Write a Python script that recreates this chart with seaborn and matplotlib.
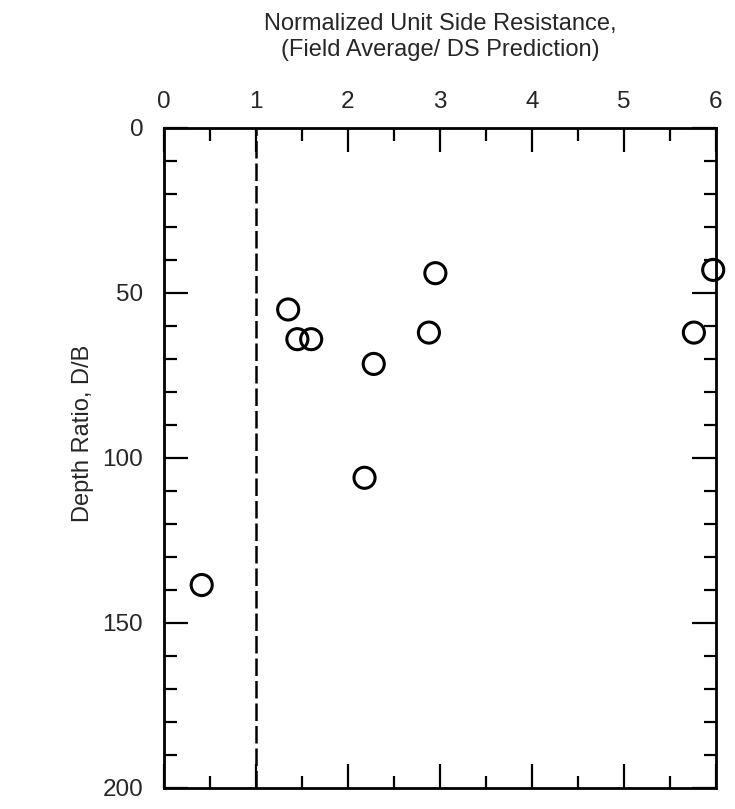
import numpy as np
import seaborn as sns
import matplotlib.pyplot as plt
import pandas as pd
from matplotlib.ticker import MultipleLocator

# values
ratio = [1.35, 1.45, 1.6, 2.28, 2.18, 2.95, 2.88, 5.97, 5.76, 0.41]
depth = [55, 64, 64, 71.5, 106, 44, 62, 43, 62, 138.5]

df = pd.DataFrame({"ratio": ratio, "depth": depth})

sns.set_style("ticks")
plt.rcParams['font.family'] = ['Liberation Sans', 'DejaVu Sans']

fig = plt.figure(figsize=(7.35, 8.09), dpi=100)
ax = fig.add_axes([0.2231, 0.026, 0.751, 0.8158])

sns.scatterplot(x="ratio", y="depth", data=df, ax=ax, s=230, marker="o",
                facecolor="none", edgecolor="black", linewidth=2.2, clip_on=False, zorder=3)

ax.axvline(1, color="black", linestyle=(0, (7, 2)), linewidth=1.8)

ax.set_xlim(0, 6)
ax.set_ylim(200, 0)
ax.xaxis.set_major_locator(MultipleLocator(1))
ax.xaxis.set_minor_locator(MultipleLocator(0.5))
ax.yaxis.set_major_locator(MultipleLocator(50))
ax.yaxis.set_minor_locator(MultipleLocator(10))

ax.tick_params(axis="both", which="both", direction="in", top=True, bottom=True,
               left=True, right=True, labeltop=True, labelbottom=False,
               labelsize=17.5, color="black", width=1.6)
ax.tick_params(which="major", length=17)
ax.tick_params(which="minor", length=9)
ax.tick_params(axis="x", which="major", pad=11)
ax.tick_params(axis="y", which="major", pad=15)

ax.xaxis.set_label_position("top")
ax.set_xlabel("Normalized Unit Side Resistance,\n(Field Average/ DS Prediction)",
              fontsize=17, labelpad=25, linespacing=1.25)
ax.set_ylabel("Depth Ratio, D/B", fontsize=17)
ax.yaxis.set_label_coords(-0.127, 0.538)

for sp in ax.spines.values():
    sp.set_linewidth(2)
    sp.set_color("black")

fig.savefig("out.png", dpi=100)
